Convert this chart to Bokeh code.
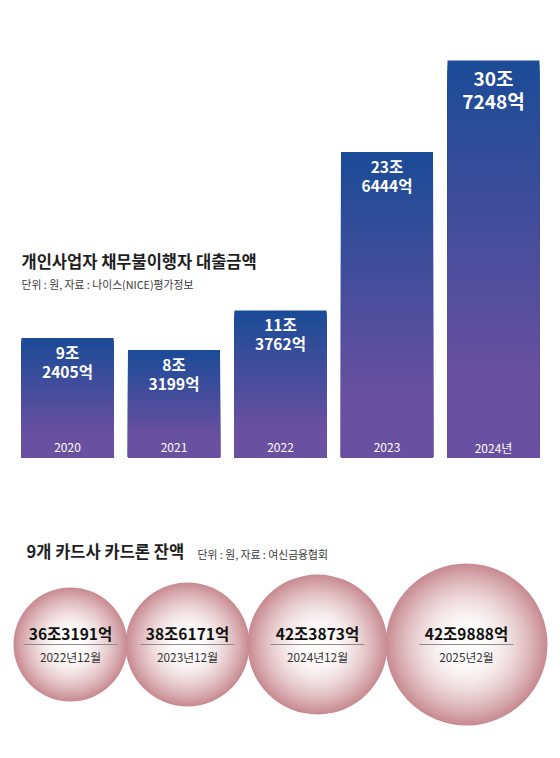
from bokeh.plotting import figure
from bokeh.models import ColumnDataSource, FactorRange, Range1d, Label
from bokeh.layouts import column
from bokeh.core.properties import value
from bokeh.embed import file_html
from bokeh.resources import INLINE

# ---------------- data ----------------
years = ["2020", "2021", "2022", "2023", "2024"]
year_labels = ["2020", "2021", "2022", "2023", "2024년"]
loan_eok = [92405, 83199, 113762, 236444, 307248]          # 억 원

card_dates = ["2022년12월", "2023년12월", "2024년12월", "2025년2월"]
card_balance_eok = [363191, 386171, 423873, 429888]        # 억 원

title1 = "개인사업자 채무불이행자 대출금액"
sub1 = "단위 : 원, 자료 : 나이스(NICE)평가정보"
title2 = "9개 카드사 카드론 잔액"
sub2 = "단위 : 원, 자료 : 여신금융협회"

# ---------------- style / layout ----------------
FONT = "Noto Sans CJK KR"
W, H1, H2 = 560, 500, 256
PX_PER_JO = 12.92          # pixels per 1조 (10000억)
BASE_PX = 43               # baseline distance from bottom of top figure
BAND_PX = 106.5
BAR_W = 0.864
BLUE = (27, 75, 151)
PURPLE = (106, 80, 160)
ROSE = (200, 139, 145)
WHITE = (254, 251, 251)
bubble_r = [57, 62, 70, 81]   # drawn sizes (illustrative, as in the original)


def fmt(v):
    return f"{v // 10000}조{v % 10000}억"


def lerp(c0, c1, f):
    return "#%02x%02x%02x" % tuple(int(round(a + (b - a) * f)) for a, b in zip(c0, c1))


k = PX_PER_JO / 10000.0
pad = (W / 2 - 2.5 * BAND_PX) / BAND_PX   # applied on each side

p1 = figure(width=W, height=H1, output_backend="svg", toolbar_location=None,
            x_range=FactorRange(*years, range_padding=pad, range_padding_units="absolute"),
            y_range=Range1d(-BASE_PX / k, (H1 - BASE_PX) / k),
            x_axis_location=None, y_axis_location=None, min_border=0,
            outline_line_color=None, background_fill_color="white", border_fill_color="white")
p1.grid.visible = False

# gradient bars: stacked slices from baseline, colour by fraction from top
N = 80
gx, gtop, gc = [], [], []
for y, v in zip(years, loan_eok):
    for j in range(N):
        t = j / N
        gx.append(y)
        gtop.append(v * (1 - t))
        gc.append(lerp(BLUE, PURPLE, min(t / 0.8, 1.0)))
p1.vbar(x="x", top="top", bottom=0, width=BAR_W, fill_color="c", line_color=None,
        source=ColumnDataSource(dict(x=gx, top=gtop, c=gc)))

fs = [15.5, 15.5, 15.5, 15.5, 19]
lab = ColumnDataSource(dict(
    x=years, y=loan_eok,
    jo=[f"{v // 10000}조" for v in loan_eok],
    eok=[f"{v % 10000}억" for v in loan_eok],
    fs=[f"{s}px" for s in fs],
    o1=[0.88 * s for s in fs],
    o2=[0.88 * s + 1.22 * s for s in fs],
    yl=year_labels, zero=[0] * len(years),
))
p1.text(x="x", y="y", text="jo", y_offset="o1", text_font_size="fs", text_font=value(FONT),
        text_font_style="bold", text_color="white", text_align="center", text_baseline="middle",
        source=lab)
p1.text(x="x", y="y", text="eok", y_offset="o2", text_font_size="fs", text_font=value(FONT),
        text_font_style="bold", text_color="white", text_align="center", text_baseline="middle",
        source=lab)
p1.text(x="x", y="zero", text="yl", y_offset=-10, text_font_size="12px", text_font=value(FONT),
        text_color="white", text_align="center", text_baseline="middle", source=lab)

p1.add_layout(Label(x=21, y=240, x_units="screen", y_units="screen", text=title1,
                    text_font=FONT, text_font_style="bold", text_font_size="16.5px",
                    text_color="#1e1e1e", text_baseline="middle"))
p1.add_layout(Label(x=21, y=217, x_units="screen", y_units="screen", text=sub1,
                    text_font=FONT, text_font_size="10.8px", text_color="#3a3a3a",
                    text_baseline="middle"))

# ---------------- bubbles ----------------
p2 = figure(width=W, height=H2, output_backend="svg", toolbar_location=None,
            x_range=Range1d(0, W), y_range=Range1d(H2, 0),
            x_axis_location=None, y_axis_location=None, min_border=0,
            outline_line_color=None, background_fill_color="white", border_fill_color="white")
p2.grid.visible = False

cx = []
x = 13
for i, r in enumerate(bubble_r):
    if i == 0:
        x = x + r
    else:
        x = x + bubble_r[i - 1] + r - 2
    cx.append(x)
CY = 144

M = 60
bx, by, br, bc = [], [], [], []
for c, r in zip(cx, bubble_r):
    for j in range(M):
        s = 1 - j / M
        f = max(0.0, (s - 0.2) / 0.8) ** 1.6
        bx.append(c); by.append(CY); br.append(r * s); bc.append(lerp(WHITE, ROSE, f))
p2.circle(x="x", y="y", radius="r", fill_color="c", line_color=None,
          source=ColumnDataSource(dict(x=bx, y=by, r=br, c=bc)))

bsrc = ColumnDataSource(dict(
    x=cx, yv=[CY - 12] * 4, yd=[CY + 12] * 4,
    x0=[c - 47 for c in cx], x1=[c + 47 for c in cx], yl=[CY] * 4,
    val=[fmt(v) for v in card_balance_eok], d=card_dates,
))
p2.segment(x0="x0", x1="x1", y0="yl", y1="yl", line_color="#8c8c8c", line_width=1, source=bsrc)
p2.text(x="x", y="yv", text="val", text_font=value(FONT), text_font_style="bold",
        text_font_size="15.5px", text_color="#111111", text_align="center",
        text_baseline="middle", source=bsrc)
p2.text(x="x", y="yd", text="d", text_font=value(FONT), text_font_size="11.8px",
        text_color="#333333", text_align="center", text_baseline="middle", source=bsrc)

p2.text(x=[26], y=[50], text=[title2], text_font=value(FONT), text_font_style="bold",
        text_font_size="16.5px", text_color="#1e1e1e", text_baseline="middle")
p2.text(x=[197], y=[53], text=[sub2], text_font=value(FONT), text_font_size="10.8px",
        text_color="#3a3a3a", text_baseline="middle")

layout = column(p1, p2)
open("out.html", "w").write(file_html(layout, INLINE))
